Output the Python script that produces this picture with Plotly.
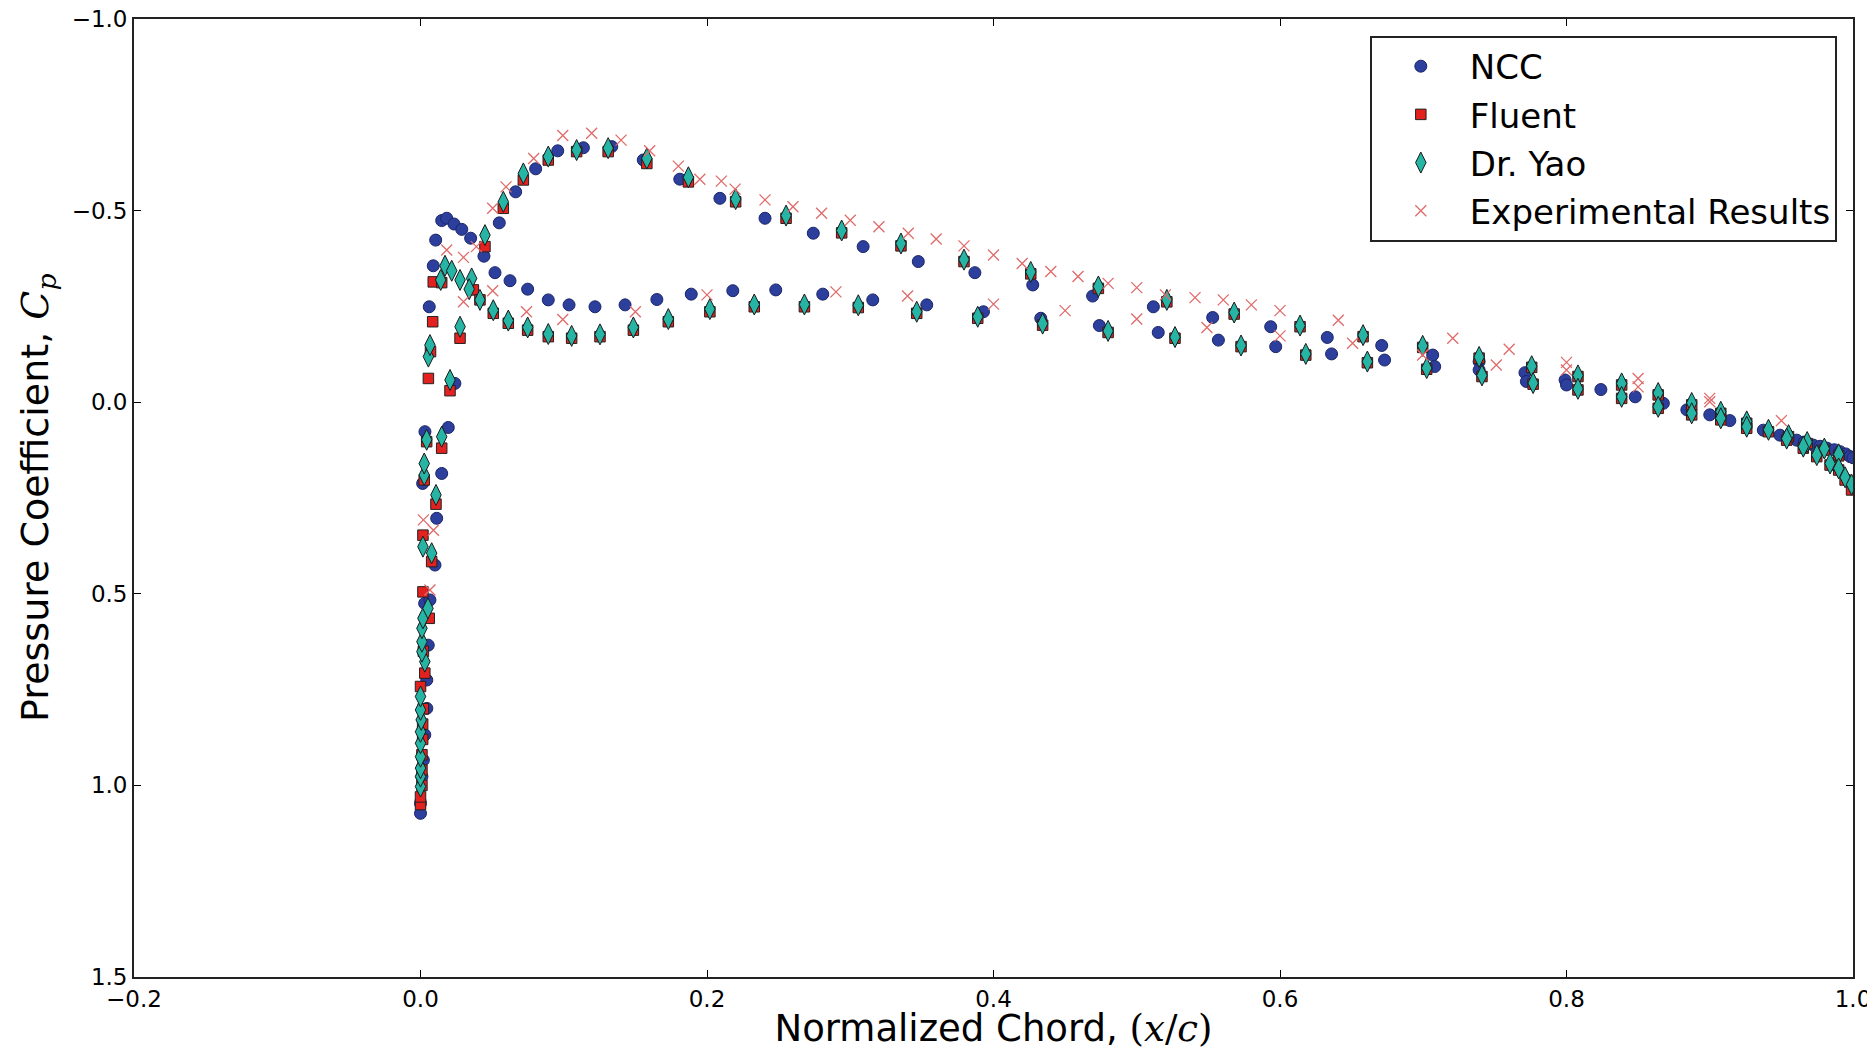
import plotly.graph_objects as go

# ---------------- data ----------------
ncc_x = [0.000, 0.000, 0.001, 0.002, 0.003, 0.0044, 0.0044, 0.0054, 0.0029, 0.0066,
         0.0101, 0.0113, 0.0015, 0.0148, 0.0031, 0.0194, 0.024,
         0.0061, 0.0089, 0.0106, 0.0148, 0.0183, 0.0234, 0.0288, 0.035, 0.0443,
         0.055, 0.0664, 0.0804, 0.0958, 0.1137, 0.1335, 0.1555, 0.181, 0.209, 0.2405,
         0.2742, 0.309, 0.3475, 0.387, 0.4274, 0.4692, 0.5116, 0.553, 0.5935, 0.633,
         0.671, 0.7066, 0.739, 0.771, 0.799, 0.824, 0.848, 0.8676, 0.884, 0.900,
         0.914, 0.9374, 0.949, 0.955, 0.9607, 0.966, 0.9723, 0.977, 0.982, 0.987,
         0.991, 0.995, 0.998, 1.000,
         0.052, 0.0625, 0.0748, 0.0892, 0.1037, 0.1218, 0.1428, 0.165, 0.189, 0.218,
         0.248, 0.2808, 0.3157, 0.3534, 0.393, 0.433, 0.4739, 0.515, 0.557, 0.597,
         0.636, 0.673, 0.708, 0.739, 0.772, 0.800]
ncc_cp = [1.073, 1.047, 0.977, 0.934, 0.868, 0.799, 0.725, 0.634, 0.525, 0.516,
          0.425, 0.303, 0.212, 0.186, 0.077, 0.066, -0.049,
          -0.249, -0.356, -0.423, -0.474, -0.480, -0.465, -0.451, -0.428, -0.381,
          -0.468, -0.549, -0.609, -0.656, -0.664, -0.667, -0.632, -0.582, -0.532, -0.480,
          -0.441, -0.406, -0.367, -0.338, -0.306, -0.277, -0.249, -0.221, -0.197, -0.169,
          -0.148, -0.123, -0.106, -0.077, -0.058, -0.033, -0.014, 0.003, 0.020, 0.033,
          0.048, 0.073, 0.086, 0.092, 0.099, 0.104, 0.112, 0.115, 0.120, 0.124,
          0.129, 0.135, 0.142, 0.145,
          -0.338, -0.317, -0.295, -0.267, -0.254, -0.249, -0.254, -0.268, -0.282, -0.291,
          -0.293, -0.282, -0.267, -0.254, -0.236, -0.219, -0.200, -0.182, -0.162, -0.145,
          -0.126, -0.110, -0.093, -0.084, -0.054, -0.045]

fluent_x = [0.000, 0.000, 0.001, 0.001, 0.001, 0.0015, 0.0015, 0.002, 0.000, 0.003,
            0.002, 0.0061, 0.0017, 0.0078, 0.0017, 0.0108, 0.0026, 0.0148, 0.0043,
            0.0055, 0.0206, 0.007, 0.0276, 0.0085, 0.0089, 0.0148, 0.0369, 0.0415,
            0.045, 0.0578, 0.0718, 0.0892, 0.109, 0.131, 0.158, 0.187, 0.220, 0.2552,
            0.294, 0.3354, 0.3794, 0.426, 0.4732, 0.521, 0.568, 0.614, 0.658, 0.6996,
            0.739, 0.7757, 0.808, 0.8385, 0.864, 0.8874, 0.9077, 0.9258, 0.941, 0.955,
            0.968, 0.980, 0.990,
            0.0508, 0.0613, 0.0748, 0.0892, 0.1055, 0.1253, 0.1486, 0.173, 0.202, 0.233,
            0.268, 0.3056, 0.3464, 0.389, 0.4343, 0.480, 0.5267, 0.5728, 0.618, 0.661,
            0.7024, 0.741, 0.7767, 0.808, 0.8385, 0.864, 0.8874, 0.9077, 0.9258, 0.9537,
            0.9653, 0.9747, 0.984, 0.990, 0.9945, 0.999]
fluent_cp = [1.050, 1.030, 1.000, 0.960, 0.920, 0.880, 0.840, 0.800, 0.742, 0.707,
             0.650, 0.564, 0.495, 0.416, 0.347, 0.266, 0.203, 0.120, 0.103,
             -0.062, -0.030, -0.132, -0.167, -0.210, -0.314, -0.312, -0.293, -0.267,
             -0.406, -0.506, -0.580, -0.632, -0.654, -0.654, -0.623, -0.575, -0.523, -0.480,
             -0.442, -0.408, -0.367, -0.335, -0.297, -0.262, -0.230, -0.197, -0.171, -0.143,
             -0.115, -0.091, -0.067, -0.045, -0.019, 0.007, 0.029, 0.055, 0.077, 0.090,
             0.108, 0.125, 0.140,
             -0.232, -0.206, -0.188, -0.171, -0.167, -0.171, -0.188, -0.210, -0.236, -0.249,
             -0.249, -0.247, -0.232, -0.219, -0.201, -0.182, -0.167, -0.145, -0.123, -0.103,
             -0.086, -0.067, -0.047, -0.032, -0.010, 0.016, 0.033, 0.046, 0.068, 0.099,
             0.120, 0.142, 0.164, 0.177, 0.203, 0.229]

yao_x = [0.000, 0.000, 0.000, 0.000, 0.000, 0.000, 0.0005, 0.000, 0.000, 0.003,
         0.001, 0.001, 0.001, 0.0017, 0.0052, 0.0078, 0.0017, 0.0108, 0.0026, 0.0026,
         0.0043, 0.0148, 0.0206, 0.0055, 0.0066, 0.0276, 0.0141, 0.0171, 0.0218, 0.0276,
         0.0357, 0.034, 0.0415, 0.045, 0.0578, 0.0718, 0.0892, 0.109, 0.131, 0.158,
         0.187, 0.220, 0.2552, 0.294, 0.3354, 0.3794, 0.426, 0.4732, 0.521, 0.568,
         0.614, 0.658, 0.6996, 0.739, 0.7757, 0.808, 0.8385, 0.864, 0.8874, 0.9077,
         0.9258, 0.941, 0.955, 0.968, 0.980, 0.990,
         0.0508, 0.0613, 0.0748, 0.0892, 0.1055, 0.1253, 0.1486, 0.173, 0.202, 0.233,
         0.268, 0.3056, 0.3464, 0.389, 0.4343, 0.480, 0.5267, 0.5728, 0.618, 0.661,
         0.7024, 0.741, 0.7767, 0.808, 0.8385, 0.864, 0.8874, 0.9077, 0.9258, 0.9537,
         0.9653, 0.9747, 0.984, 0.990, 0.9945, 0.999]
yao_cp = [1.003, 0.977, 0.955, 0.925, 0.890, 0.860, 0.829, 0.803, 0.768, 0.677,
          0.651, 0.625, 0.590, 0.564, 0.538, 0.394, 0.377, 0.242, 0.190, 0.160,
          0.098, 0.090, -0.058, -0.119, -0.149, -0.197, -0.319, -0.356, -0.343, -0.319,
          -0.323, -0.295, -0.267, -0.436, -0.523, -0.597, -0.641, -0.658, -0.663, -0.636,
          -0.587, -0.530, -0.487, -0.448, -0.414, -0.372, -0.340, -0.302, -0.267, -0.234,
          -0.200, -0.175, -0.147, -0.118, -0.094, -0.070, -0.049, -0.024, 0.002, 0.025,
          0.050, 0.072, 0.086, 0.104, 0.121, 0.136,
          -0.240, -0.213, -0.195, -0.178, -0.173, -0.177, -0.195, -0.217, -0.243, -0.255,
          -0.255, -0.253, -0.236, -0.223, -0.205, -0.186, -0.170, -0.148, -0.126, -0.106,
          -0.089, -0.070, -0.050, -0.035, -0.014, 0.012, 0.029, 0.042, 0.064, 0.095,
          0.116, 0.138, 0.160, 0.173, 0.196, 0.215]

exp_x = [0.002, 0.009, 0.0066, 0.0183, 0.030, 0.039, 0.030, 0.0504, 0.0504, 0.0597,
         0.079, 0.0993, 0.1195, 0.140, 0.160, 0.180, 0.195, 0.210, 0.2196, 0.2405,
         0.260, 0.280, 0.300, 0.320, 0.3405, 0.360, 0.3794, 0.400, 0.420, 0.440,
         0.459, 0.480, 0.500, 0.520, 0.5407, 0.5604, 0.580, 0.600, 0.6407, 0.7206,
         0.760, 0.800, 0.850, 0.900, 0.950,
         0.074, 0.0993, 0.150, 0.200, 0.290, 0.340, 0.400, 0.450, 0.500, 0.549,
         0.600, 0.6507, 0.6996, 0.751, 0.800, 0.850, 0.900]
exp_cp = [0.307, 0.334, 0.490, -0.397, -0.378, -0.406, -0.262, -0.291, -0.506, -0.562,
          -0.636, -0.696, -0.702, -0.684, -0.656, -0.616, -0.582, -0.577, -0.556, -0.528,
          -0.510, -0.493, -0.475, -0.458, -0.441, -0.426, -0.408, -0.384, -0.362, -0.341,
          -0.328, -0.310, -0.299, -0.280, -0.273, -0.267, -0.254, -0.239, -0.214, -0.167,
          -0.138, -0.104, -0.062, -0.010, 0.048,
          -0.236, -0.216, -0.236, -0.280, -0.288, -0.277, -0.256, -0.239, -0.217, -0.195,
          -0.173, -0.154, -0.123, -0.097, -0.084, -0.040, -0.001]

x_ticks = [-0.2, 0.0, 0.2, 0.4, 0.6, 0.8, 1.0]
y_ticks = [-1.0, -0.5, 0.0, 0.5, 1.0, 1.5]
x_range = [-0.2, 1.0]
y_range = [1.5, -1.0]

# ---------------- figure ----------------
FONT = "DejaVu Sans"
fig = go.Figure()

fig.add_trace(go.Scatter(
    x=ncc_x, y=ncc_cp, mode="markers", name="NCC", legendgroup="a",
    marker=dict(symbol="circle", size=12, color="#2c3f9c",
                line=dict(color="#1b2568", width=1))))
fig.add_trace(go.Scatter(
    x=fluent_x, y=fluent_cp, mode="markers", name="Fluent", legendgroup="b",
    marker=dict(symbol="square", size=10.5, color="#e3211f",
                line=dict(color="#222222", width=1))))
fig.add_trace(go.Scatter(
    x=yao_x, y=yao_cp, mode="markers", name="Dr. Yao", legendgroup="c",
    marker=dict(symbol="diamond-tall", size=15, color="#26b4a4",
                line=dict(color="#1a1a1a", width=1))))
fig.add_trace(go.Scatter(
    x=exp_x, y=exp_cp, mode="markers", name="Experimental Results", legendgroup="d",
    marker=dict(symbol="x-thin", size=11, color="#e06a6a",
                line=dict(color="#e06a6a", width=1.3))))

axis_common = dict(
    showgrid=False, zeroline=False, showline=True, linecolor="#222222",
    linewidth=1.8, mirror="allticks", ticks="inside", ticklen=7,
    tickwidth=1, tickcolor="black", tickformat=".1f",
    ticklabeloverflow="allow",
    tickfont=dict(family=FONT, size=23, color="black"),
)

fig.update_xaxes(
    range=x_range, tickvals=x_ticks, **axis_common,
    title=dict(text="Normalized Chord, <span style='font-family:DejaVu Serif'>(<i>x</i>/<i>c</i>)</span>",
               font=dict(family=FONT, size=37, color="black"), standoff=7),
)
fig.update_yaxes(range=y_range, tickvals=y_ticks, **axis_common)

fig.add_annotation(
    text="Pressure Coefficient, <span style='font-family:DejaVu Serif'><i>C<sub>p</sub></i></span>",
    xref="paper", yref="paper", x=-0.0565, y=0.50, xanchor="center", yanchor="middle",
    textangle=-90, showarrow=False,
    font=dict(family=FONT, size=38, color="black"),
)

fig.update_layout(
    width=1859, height=1042,
    margin=dict(l=126, r=14, t=11, b=73, autoexpand=False),
    plot_bgcolor="white", paper_bgcolor="white",
    font=dict(family=FONT, color="black"),
    legend=dict(
        x=0.9907, y=0.9825, xanchor="right", yanchor="top",
        bgcolor="white", bordercolor="#222222", borderwidth=1.8,
        font=dict(family=FONT, size=34, color="black"),
        itemwidth=88, tracegroupgap=1,
    ),
    showlegend=True,
)

fig.write_html("out.html")
